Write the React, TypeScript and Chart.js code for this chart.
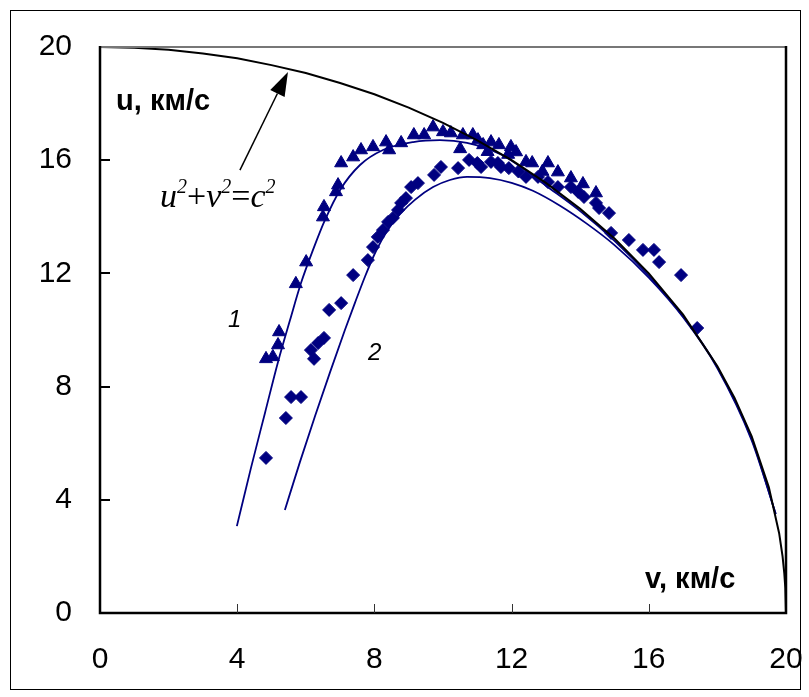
import { useEffect, useRef } from "react";
import { Chart, registerables } from "chart.js";

Chart.register(...registerables);

const NAVY = "#000080";

// Axis ticks
const tickValues = [0, 4, 8, 12, 16, 20];

// Series 1 (triangles): v, km/s and u, km/s
const triV = [4.84, 5.04, 5.19, 5.22, 5.71, 6.01, 6.5, 6.53, 6.88, 6.94, 7.03, 7.38, 7.61, 7.96, 8.34, 8.43, 8.78, 9.15, 9.45, 9.71, 10.0, 10.23, 10.58, 10.87, 11.02, 11.17, 11.4, 11.63, 11.98, 12.13, 12.42, 13.06, 13.35, 13.73, 14.08, 14.46, 10.5, 11.3, 11.9, 12.6, 12.9];
const triU = [8.98, 9.05, 9.47, 9.93, 11.63, 12.4, 13.99, 14.35, 14.88, 15.12, 15.9, 16.11, 16.36, 16.47, 16.64, 16.36, 16.61, 16.89, 16.89, 17.17, 17.0, 16.96, 16.89, 16.89, 16.71, 16.54, 16.64, 16.54, 16.47, 16.29, 15.94, 15.9, 15.58, 15.37, 15.16, 14.84, 16.4, 16.3, 16.2, 15.9, 15.6];

// Series 2 (diamonds)
const diaV = [4.84, 5.42, 5.57, 5.86, 6.24, 6.15, 6.36, 6.53, 6.68, 7.03, 7.38, 7.81, 7.96, 8.1, 8.25, 8.4, 8.54, 8.69, 8.78, 8.92, 9.07, 9.27, 9.74, 9.94, 10.44, 10.76, 11.11, 11.4, 11.69, 11.92, 12.42, 12.77, 13.06, 13.35, 13.73, 13.94, 14.11, 14.46, 14.55, 14.84, 14.9, 15.42, 15.83, 16.15, 16.3, 16.94, 17.41, 11.0, 11.6, 12.2];
const diaU = [5.48, 6.89, 7.63, 7.63, 8.98, 9.29, 9.54, 9.72, 10.71, 10.95, 11.94, 12.47, 12.93, 13.29, 13.53, 13.82, 13.96, 14.24, 14.49, 14.66, 15.05, 15.19, 15.48, 15.76, 15.72, 16.01, 15.76, 15.94, 15.76, 15.72, 15.41, 15.41, 15.23, 15.05, 15.05, 14.88, 14.7, 14.49, 14.31, 14.13, 13.43, 13.18, 12.83, 12.83, 12.4, 11.94, 10.07, 15.9, 15.9, 15.6];

// Black curve u^2 + v^2 = c^2
const circleV = [0, 1, 2, 3, 4, 5, 6, 7, 8, 9, 10, 11, 12, 13, 14, 15, 16, 17, 18, 18.5, 19, 19.5, 19.8, 19.9, 19.95, 19.98, 20];
const circleU = [20, 19.97, 19.9, 19.77, 19.6, 19.36, 19.08, 18.73, 18.33, 17.86, 17.32, 16.7, 16.0, 15.2, 14.28, 13.23, 12.0, 10.54, 8.72, 7.6, 6.24, 4.44, 2.82, 2.0, 1.41, 0.89, 0];

// Fitted curve 1
const fit1V = [3.99, 4.4, 4.81, 5.19, 5.54, 5.86, 6.21, 6.56, 7.0, 7.58, 8.25, 9.13, 9.91, 10.7, 11.66, 12.16, 13.0, 14.0, 15.0, 16.0, 17.0, 18.0, 19.0, 19.7];
const fit1U = [3.07, 5.12, 7.07, 8.87, 10.35, 11.66, 12.83, 13.89, 14.95, 15.83, 16.36, 16.64, 16.71, 16.61, 16.22, 15.85, 15.1, 14.2, 13.15, 11.92, 10.48, 8.68, 6.15, 3.5];

// Fitted curve 2
const fit2V = [5.39, 5.83, 6.27, 6.71, 7.14, 7.43, 7.73, 8.05, 8.37, 8.75, 9.18, 9.71, 10.2, 10.7, 11.37, 12.0, 12.62, 13.4, 14.2, 15.0, 16.0, 17.0, 18.0, 19.0, 19.7];
const fit2U = [3.64, 5.34, 6.96, 8.52, 10.0, 10.95, 11.9, 12.8, 13.5, 14.1, 14.6, 15.05, 15.3, 15.41, 15.37, 15.2, 14.92, 14.4, 13.75, 13.0, 11.85, 10.45, 8.65, 6.1, 3.5];

const pts = (xs: number[], ys: number[]) => xs.map((x, i) => ({ x, y: ys[i] }));

const SANS = '"Liberation Sans", Arial, sans-serif';
const SERIF = '"Liberation Serif", "Times New Roman", serif';

export default function App() {
  const ref = useRef<HTMLCanvasElement>(null);

  useEffect(() => {
    const canvas = ref.current!;
    const overlay = {
      id: "overlay",
      afterDatasetsDraw(chart: any) {
        const ctx = chart.ctx as CanvasRenderingContext2D;
        const { left, right, top, bottom } = chart.chartArea;
        const xs = chart.scales.x;
        const ys = chart.scales.y;
        const px = (v: number) => xs.getPixelForValue(v);
        const py = (u: number) => ys.getPixelForValue(u);
        ctx.save();
        // outer frame
        ctx.strokeStyle = "#000";
        ctx.lineWidth = 1;
        ctx.strokeRect(10.5, 10.5, 790, 679);
        // top border (gray)
        ctx.strokeStyle = "#777";
        ctx.lineWidth = 2;
        ctx.beginPath();
        ctx.moveTo(left, top);
        ctx.lineTo(right, top);
        ctx.stroke();
        // axes
        ctx.strokeStyle = "#000";
        ctx.lineWidth = 2.5;
        ctx.beginPath();
        ctx.moveTo(right, top - 1);
        ctx.lineTo(right, bottom);
        ctx.lineTo(left, bottom);
        ctx.lineTo(left, top - 1);
        ctx.stroke();
        // ticks
        ctx.lineWidth = 2;
        for (const t of tickValues) {
          if (t === 0 || t === 20) continue;
          const y = Math.round(py(t));
          ctx.beginPath();
          ctx.moveTo(left, y);
          ctx.lineTo(left + 10, y);
          ctx.stroke();
        }
        ctx.lineWidth = 1;
        ctx.strokeStyle = "#333";
        for (const t of tickValues) {
          if (t === 0 || t === 20) continue;
          const x = Math.round(px(t)) + 0.5;
          ctx.beginPath();
          ctx.moveTo(x, bottom);
          ctx.lineTo(x, bottom - 9);
          ctx.stroke();
        }
        // axis titles
        ctx.fillStyle = "#000";
        ctx.textBaseline = "alphabetic";
        ctx.textAlign = "left";
        ctx.font = `bold 29px ${SANS}`;
        ctx.fillText("u, км/с", px(0.47), py(17.77));
        ctx.fillText("v, км/с", px(15.89), py(0.88));
        // curve labels
        ctx.font = `italic 24px ${SANS}`;
        ctx.fillText("1", px(3.73), py(10.1));
        ctx.fillText("2", px(7.81), py(8.94));
        // formula
        let fx = px(1.75);
        const fy = py(14.35);
        const parts: [string, string, number][] = [
          ["u", `italic 34px ${SERIF}`, 0],
          ["2", `italic 20px ${SERIF}`, -14],
          ["+", `34px ${SERIF}`, 0],
          ["v", `italic 34px ${SERIF}`, 0],
          ["2", `italic 20px ${SERIF}`, -14],
          ["=", `34px ${SERIF}`, 0],
          ["c", `italic 34px ${SERIF}`, 0],
          ["2", `italic 20px ${SERIF}`, -14],
        ];
        for (const [s, f, dy] of parts) {
          ctx.font = f;
          ctx.fillText(s, fx, fy + dy);
          fx += ctx.measureText(s).width;
        }
        // arrow
        const tx = px(4.08), tyy = py(15.65);
        const hx = px(5.48), hy = py(19.12);
        const dx = hx - tx, dyy = hy - tyy;
        const len = Math.hypot(dx, dyy);
        const ux = dx / len, uy = dyy / len;
        const bx = hx - ux * 24, by = hy - uy * 24;
        ctx.strokeStyle = "#000";
        ctx.lineWidth = 1.5;
        ctx.beginPath();
        ctx.moveTo(tx, tyy);
        ctx.lineTo(bx, by);
        ctx.stroke();
        ctx.beginPath();
        ctx.moveTo(hx, hy);
        ctx.lineTo(bx - uy * 8, by + ux * 8);
        ctx.lineTo(bx + uy * 8, by - ux * 8);
        ctx.closePath();
        ctx.fill();
        ctx.restore();
      },
    };

    const chart = new Chart(canvas, {
      type: "scatter",
      data: {
        datasets: [
          {
            label: "circle",
            data: pts(circleV, circleU),
            showLine: true,
            borderColor: "#000",
            borderWidth: 2,
            pointRadius: 0,
            tension: 0,
          },
          {
            label: "1",
            data: pts(triV, triU),
            pointStyle: "triangle",
            pointRadius: 7.5,
            backgroundColor: NAVY,
            borderColor: NAVY,
            borderWidth: 1,
          },
          {
            label: "2",
            data: pts(diaV, diaU),
            pointStyle: "rectRot",
            pointRadius: 6.5,
            backgroundColor: NAVY,
            borderColor: NAVY,
            borderWidth: 1,
          },
          {
            label: "fit1",
            data: pts(fit1V, fit1U),
            showLine: true,
            borderColor: NAVY,
            borderWidth: 1.8,
            pointRadius: 0,
            cubicInterpolationMode: "monotone",
          },
          {
            label: "fit2",
            data: pts(fit2V, fit2U),
            showLine: true,
            borderColor: NAVY,
            borderWidth: 1.8,
            pointRadius: 0,
            cubicInterpolationMode: "monotone",
          },
        ],
      } as any,
      options: {
        responsive: false,
        animation: false,
        devicePixelRatio: 1,
        events: [],
        layout: { padding: { left: 0, top: 47, right: 23, bottom: 0 } },
        plugins: { legend: { display: false }, tooltip: { enabled: false } },
        scales: {
          x: {
            type: "linear",
            min: 0,
            max: 20,
            ticks: {
              stepSize: 4,
              color: "#000",
              font: { family: SANS, size: 30 },
              padding: 29,
              maxRotation: 0,
            },
            grid: { display: false, drawTicks: false },
            border: { display: false },
            afterFit: (s: any) => {
              s.height = 84;
              s.paddingLeft = 0;
              s.paddingRight = 0;
            },
          },
          y: {
            type: "linear",
            min: 0,
            max: 20,
            ticks: {
              stepSize: 4,
              color: "#000",
              font: { family: SANS, size: 30 },
              padding: 28,
            },
            grid: { display: false, drawTicks: false },
            border: { display: false },
            afterFit: (s: any) => {
              s.width = 100;
              s.paddingTop = 0;
              s.paddingBottom = 0;
            },
          },
        },
      } as any,
      plugins: [overlay],
    });
    return () => chart.destroy();
  }, []);

  return (
    <canvas
      ref={ref}
      width={809}
      height={697}
      style={{ position: "absolute", left: 0, top: 0, width: 809, height: 697, background: "#fff" }}
    />
  );
}
